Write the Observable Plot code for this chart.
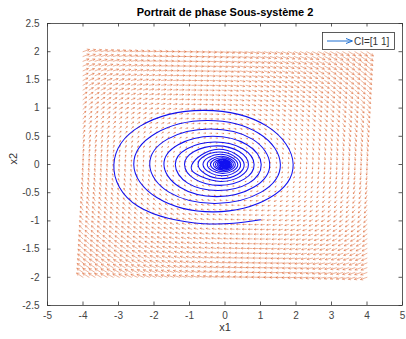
<!DOCTYPE html>
<html><head><meta charset="utf-8">
<script src="https://cdn.jsdelivr.net/npm/d3@7"></script>
<script src="https://cdn.jsdelivr.net/npm/@observablehq/plot@0.6"></script>
<style>body{margin:0;background:#fff} svg{display:block}</style>
</head><body><div id="chart"></div>
<script>
const title = "Portrait de phase Sous-système 2";
const xLabel = "x1";
const yLabel = "x2";
const legendLabel = "CI=[1 1]";
const x1Ticks = [-5, -4, -3, -2, -1, 0, 1, 2, 3, 4, 5];
const x2Ticks = [-2.5, -2, -1.5, -1, -0.5, 0, 0.5, 1, 1.5, 2, 2.5];

// quiver grid (48 x 48 points over [-4,4] x [-2,2])
const gridX1 = d3.range(48).map(i => -4 + 8 * i / 47);
const gridX2 = d3.range(48).map(i => -2 + 4 * i / 47);
// field matrix read from arrow directions
const fieldA = [[0, 1], [-0.16, -0.1]];
const arrowScale = 0.09;

// trajectory
const spiralX1 = [1.00, -0.6, -2.45,
 -3.13, -2.39, -0.61, 1.18, 1.92, 1.26, -0.32, -1.91,
 -2.57, -1.96, -0.50, 0.96, 1.56, 1.02, -0.28, -1.58,
 -2.12, -1.62, -0.42, 0.77, 1.26, 0.82, -0.23, -1.28,
 -1.72, -1.32, -0.35, 0.62, 1.02, 0.67, -0.19, -1.05,
 -1.40, -1.07, -0.28, 0.50, 0.82, 0.54, -0.15, -0.85,
 -1.14, -0.87, -0.23, 0.40, 0.66, 0.43, -0.12, -0.69,
 -0.93, -0.19, 0.54, -0.10,
 -0.76, -0.15, 0.44, -0.08,
 -0.62, -0.12, 0.36, -0.07,
 -0.50, -0.10, 0.29, -0.055,
 -0.41, -0.08, 0.235, -0.045,
 -0.33, -0.065, 0.19, -0.035,
 -0.27, -0.055, 0.155, -0.03,
 -0.22, -0.045, 0.125, -0.025,
 -0.18, -0.036, 0.10, -0.02,
 -0.145, -0.03, 0.082, -0.016,
 -0.117, -0.024, 0.066, -0.013,
 -0.095, -0.019, 0.054, -0.01,
 -0.077, -0.015, 0.044, -0.008,
 -0.062, -0.012, 0.035, -0.007,
 -0.05, -0.01, 0.028, -0.005,
 -0.04, -0.008, 0.022, -0.004,
 0];
const spiralX2 = [-0.98, -1.05, -0.74,
 0, 0.68, 0.96, 0.68, 0, -0.59, -0.84, -0.59,
 0, 0.55, 0.78, 0.55, 0, -0.49, -0.69, -0.49,
 0, 0.45, 0.63, 0.45, 0, -0.40, -0.57, -0.40,
 0, 0.35, 0.50, 0.35, 0, -0.33, -0.46, -0.33,
 0, 0.28, 0.40, 0.28, 0, -0.26, -0.37, -0.26,
 0, 0.23, 0.33, 0.23, 0, -0.21, -0.30, -0.21,
 0, 0.27, 0, -0.25,
 0, 0.22, 0, -0.20,
 0, 0.18, 0, -0.16,
 0, 0.145, 0, -0.13,
 0, 0.12, 0, -0.105,
 0, 0.095, 0, -0.085,
 0, 0.078, 0, -0.07,
 0, 0.063, 0, -0.057,
 0, 0.051, 0, -0.046,
 0, 0.041, 0, -0.037,
 0, 0.033, 0, -0.03,
 0, 0.027, 0, -0.024,
 0, 0.022, 0, -0.02,
 0, 0.018, 0, -0.016,
 0, 0.014, 0, -0.013,
 0, 0.011, 0, -0.01,
 0];

const field = [];
for (const a of gridX1) for (const b of gridX2) {
  const u = fieldA[0][0] * a + fieldA[0][1] * b;
  const v = fieldA[1][0] * a + fieldA[1][1] * b;
  field.push({x: a, y: b, u, v});
}
const spiral = spiralX1.map((x, i) => ({x, y: spiralX2[i]}));
const fmt = d => String(d);
const W = 406, H = 339, mL = 47, mR = 4, mT = 23, mB = 34;
const fw = W - mL - mR, fh = H - mT - mB, tk = 3.5;
const axisColor = "#333";

const plot = Plot.plot({
  width: W, height: H,
  marginLeft: mL, marginRight: mR, marginTop: mT, marginBottom: mB,
  style: {fontFamily: "'Liberation Sans', Arial, sans-serif", fontSize: "10px", color: axisColor, background: "#fff", overflow: "visible"},
  x: {domain: [-5, 5]},
  y: {domain: [-2.5, 2.5]},
  marks: [
    Plot.arrow(field, {x1: "x", y1: "y", x2: d => d.x + d.u * arrowScale, y2: d => d.y + d.v * arrowScale,
      stroke: "#D95319", strokeWidth: 0.55, strokeOpacity: 0.8, bend: 0}),
    Plot.line(spiral, {x: "x", y: "y", curve: "natural", stroke: "#1010F0", strokeWidth: 1.05}),
    Plot.frame({stroke: axisColor, strokeWidth: 0.8}),
    Plot.ruleX(x1Ticks, {x: d => d, insetTop: fh - tk, stroke: axisColor, strokeWidth: 0.8}),
    Plot.ruleX(x1Ticks, {x: d => d, insetBottom: fh - tk, stroke: axisColor, strokeWidth: 0.8}),
    Plot.ruleY(x2Ticks, {y: d => d, insetRight: fw - tk, stroke: axisColor, strokeWidth: 0.8}),
    Plot.ruleY(x2Ticks, {y: d => d, insetLeft: fw - tk, stroke: axisColor, strokeWidth: 0.8}),
    Plot.axisX(x1Ticks, {anchor: "bottom", tickSize: 0, tickPadding: 6, tickFormat: fmt, label: null, fill: "#444"}),
    Plot.axisY(x2Ticks, {anchor: "left", tickSize: 0, tickPadding: 8, tickFormat: fmt, label: null, fill: "#444"}),
    Plot.text([title], {text: d => d, frameAnchor: "top", dy: -11, lineAnchor: "middle", fontWeight: "bold", fontSize: 11, fill: "#000"}),
    Plot.text([xLabel], {text: d => d, frameAnchor: "bottom", dy: 22, lineAnchor: "middle", fontSize: 11, fill: "#333"}),
    Plot.text([yLabel], {text: d => d, frameAnchor: "left", dx: -34, rotate: -90, lineAnchor: "middle", fontSize: 11, fill: "#333"})
  ]
});
document.getElementById("chart").appendChild(plot);

// legend box
const svg = d3.select(plot);
const lg = svg.append("g").attr("font-family", "'Liberation Sans', Arial, sans-serif");
lg.append("rect").attr("x", 322.5).attr("y", 32.5).attr("width", 72).attr("height", 17)
  .attr("fill", "#fff").attr("stroke", "#333").attr("stroke-width", 0.8);
lg.append("line").attr("x1", 327).attr("x2", 352).attr("y1", 41).attr("y2", 41)
  .attr("stroke", "#1f6fd0").attr("stroke-width", 1);
lg.append("path").attr("d", "M346,38.5L352.5,41L346,43.5").attr("fill", "none")
  .attr("stroke", "#1f6fd0").attr("stroke-width", 1);
lg.append("text").attr("x", 354).attr("y", 41).attr("dy", "0.35em").attr("font-size", 10)
  .attr("text-anchor", "start").attr("fill", "#333").text(legendLabel);
</script>
</body></html>
